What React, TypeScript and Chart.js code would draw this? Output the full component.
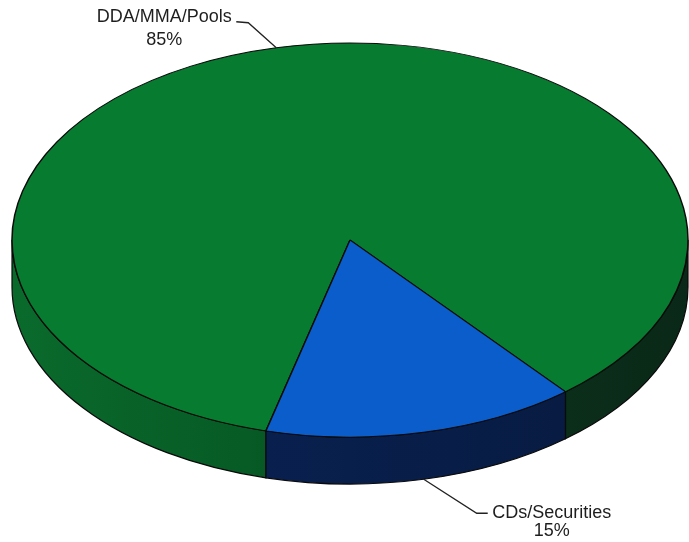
import React, { useEffect, useRef } from "react";
import { Chart, registerables } from "chart.js";

Chart.register(...registerables);

const categories = ["DDA/MMA/Pools", "CDs/Securities"];
const values = [85, 15];
const percentLabels = ["85%", "15%"];
const topColors = ["#077b30", "#0b5dcc"];

// Layout of the 3D pie (screen pixels)
const CX = 350;
const CY = 240;
const RX = 338;
const RY = 197;
const DEPTH = 47;

function sideFill(ctx: CanvasRenderingContext2D, index: number) {
  if (index === 1) {
    const g = ctx.createLinearGradient(CX - RX, 0, CX + RX, 0);
    g.addColorStop(0, "#0a2358");
    g.addColorStop(1, "#071a3e");
    return g;
  }
  const g = ctx.createLinearGradient(CX - RX, 0, CX + RX, 0);
  g.addColorStop(0, "#0a6a2c");
  g.addColorStop(0.35, "#075b25");
  g.addColorStop(0.7, "#0b321d");
  g.addColorStop(1, "#0a2817");
  return g;
}

const pie3d = {
  id: "pie3d",
  beforeDatasetsDraw(chart: any) {
    const ctx: CanvasRenderingContext2D = chart.ctx;
    const meta = chart.getDatasetMeta(0);
    const arcs = meta.data;
    if (!arcs.length) return;
    const TWO = Math.PI * 2;
    // side walls
    arcs.forEach((arc: any, i: number) => {
      const a = arc.startAngle;
      const b = arc.endAngle;
      for (let k = -2; k <= 2; k++) {
        const lo = Math.max(a, TWO * k);
        const hi = Math.min(b, TWO * k + Math.PI);
        if (hi <= lo) continue;
        ctx.save();
        ctx.beginPath();
        ctx.ellipse(CX, CY, RX, RY, 0, lo, hi, false);
        ctx.lineTo(CX + RX * Math.cos(hi), CY + DEPTH + RY * Math.sin(hi));
        ctx.ellipse(CX, CY + DEPTH, RX, RY, 0, hi, lo, true);
        ctx.closePath();
        ctx.fillStyle = sideFill(ctx, i);
        ctx.fill();
        ctx.strokeStyle = "#0a0a0a";
        ctx.lineWidth = 1.2;
        ctx.stroke();
        ctx.restore();
      }
    });
    // map the library's circle onto the tilted ellipse
    const first = arcs[0];
    const r = first.outerRadius;
    ctx.save();
    ctx.translate(CX, CY);
    ctx.scale(RX / r, RY / r);
    ctx.translate(-first.x, -first.y);
  },
  afterDatasetsDraw(chart: any) {
    const ctx: CanvasRenderingContext2D = chart.ctx;
    ctx.restore();
    const meta = chart.getDatasetMeta(0);
    ctx.save();
    ctx.strokeStyle = "#222222";
    ctx.lineWidth = 1.3;
    ctx.fillStyle = "#1e1e1e";
    ctx.font = '18px "Liberation Sans", Arial, sans-serif';
    ctx.textAlign = "center";
    ctx.textBaseline = "middle";
    meta.data.forEach((arc: any, i: number) => {
      const mid = (arc.startAngle + arc.endAngle) / 2;
      const s = Math.sin(mid);
      const ax = CX + RX * Math.cos(mid);
      const ay = CY + RY * s + (s > 0 ? DEPTH : 0);
      let ex: number, ey: number, endX: number, endY: number, tx: number, ty1: number, ty2: number;
      if (s < 0) {
        ex = ax - 28; ey = ay - 25;
        endX = ex - 12; endY = ey - 1;
        tx = endX - 72; ty1 = endY - 5; ty2 = endY + 18;
      } else {
        ex = ax + 53; ey = ay + 34;
        endX = ex + 11; endY = ey;
        tx = endX + 64; ty1 = endY; ty2 = endY + 18;
      }
      ctx.beginPath();
      ctx.moveTo(ax, ay);
      ctx.lineTo(ex, ey);
      ctx.lineTo(endX, endY);
      ctx.stroke();
      ctx.fillText(categories[i], tx, ty1);
      ctx.fillText(percentLabels[i], tx, ty2);
    });
    ctx.restore();
  },
};

export default function App() {
  const ref = useRef<HTMLCanvasElement | null>(null);
  useEffect(() => {
    if (!ref.current) return;
    const chart = new Chart(ref.current, {
      type: "pie",
      data: {
        labels: categories,
        datasets: [
          {
            data: values,
            backgroundColor: topColors,
            borderColor: "#0a0a0a",
            borderWidth: 1.2,
            clip: false as any,
          },
        ],
      },
      options: {
        responsive: false,
        animation: false,
        rotation: 194.4,
        layout: { padding: 0 },
        plugins: {
          legend: { display: false },
          tooltip: { enabled: false },
        },
      },
      plugins: [pie3d],
    });
    return () => chart.destroy();
  }, []);
  return (
    <div style={{ position: "absolute", left: 0, top: 0, width: 689, height: 542, background: "#fff" }}>
      <canvas ref={ref} width={689} height={542} />
    </div>
  );
}
